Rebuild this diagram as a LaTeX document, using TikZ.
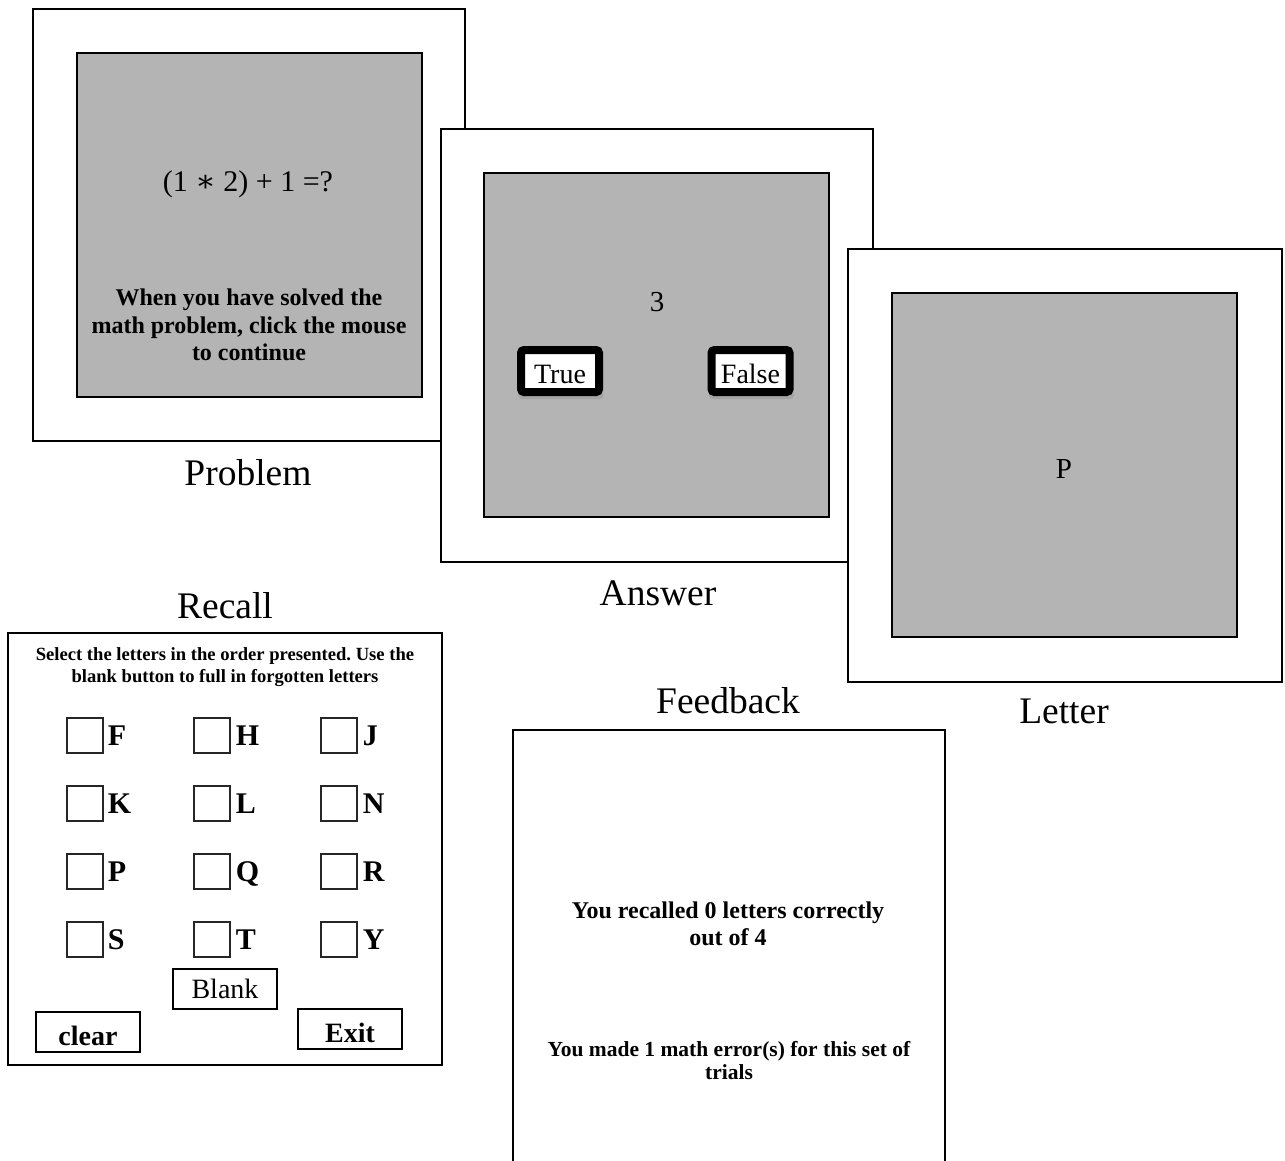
\documentclass[tikz,border=0pt]{standalone}
\usepackage{fontspec}
\setmainfont{Liberation Serif}
\newfontfamily\dvserif{DejaVu Serif}
\usetikzlibrary{shadows}
\definecolor{screen}{RGB}{180,180,180}
\frenchspacing
\begin{document}
\begin{tikzpicture}[x=1pt,y=-1pt,
  frame/.style={draw=black,line width=2pt,fill=white},
  screenbox/.style={draw=black,line width=2pt,fill=screen},
  lbl/.style={anchor=base,font=\fontsize{37.5}{42}\selectfont},
  bigchar/.style={anchor=base,font=\fontsize{29}{32}\selectfont},
  tfbtn/.style={draw=black,line width=8pt,fill=white,rounded corners=3pt,
    minimum width=78pt,minimum height=42pt,inner sep=0pt,
    text height=33pt,text depth=9pt,font=\fontsize{28}{30}\selectfont,
    drop shadow={shadow xshift=1pt,shadow yshift=-5pt,shadow scale=1.08,opacity=0.3}},
  chk/.style={draw=black!85,line width=1.3pt,minimum width=36pt,minimum height=35pt,inner sep=0pt},
  letr/.style={anchor=base west,inner sep=0pt,font=\bfseries\fontsize{30}{34}\selectfont},
  rbtn/.style={draw=black,line width=2pt,inner sep=0pt,minimum width=104pt,
    minimum height=40pt,text height=33pt,text depth=7pt,font=\bfseries\fontsize{28}{32}\selectfont}
]
\useasboundingbox[fill=white] (0,0) rectangle (1285,1160);

% ---- Problem screen
\draw[frame] (33,9) rectangle (465,441);
\draw[screenbox] (77,53) rectangle (422,397);
\node[anchor=base,font=\fontsize{30}{33}\selectfont] (expr) at (248,191) {(1 {\dvserif ∗} 2) + 1 =?};
\node[align=center,font=\bfseries\fontsize{24}{27.5}\selectfont] (ptext) at (249,325)
  {When you have solved the\\math problem, click the mouse\\to continue};
\node[lbl] (lprob) at (248,485) {Problem};

% ---- Answer screen
\draw[frame] (441,129) rectangle (873,562);
\draw[screenbox] (484,173) rectangle (829,517);
\node[bigchar] (ans) at (657,311) {3};
\node[tfbtn] (btrue) at (560,371) {True};
\node[tfbtn] (bfalse) at (750.5,371) {False};
\node[lbl] (lans) at (658,605) {Answer};

% ---- Letter screen
\draw[frame] (848,249) rectangle (1282,682);
\draw[screenbox] (892,293) rectangle (1237,637);
\node[bigchar] (let) at (1064,478) {P};
\node[lbl] (llet) at (1064,723) {Letter};

% ---- Recall screen
\node[lbl] (lrec) at (225,618) {Recall};
\draw[draw=black,line width=2.5pt] (8,633) rectangle (442,1065);
\node[align=center,font=\bfseries\fontsize{18.6}{22}\selectfont] (rtext) at (225,667)
  {Select the letters in the order presented. Use the\\blank button to full in forgotten letters};
\foreach \y/\la/\lb/\lc [count=\r] in {735.5/F/H/J, 803.5/K/L/N, 871.5/P/Q/R, 939.5/S/T/Y}{
  \node[chk] (b\r a) at (85,\y) {};
  \node[letr] (t\r a) at ([xshift=4pt,yshift=8pt]b\r a.south east) {\la};
  \node[chk] (b\r b) at (212,\y) {};
  \node[letr] (t\r b) at ([xshift=5pt,yshift=8pt]b\r b.south east) {\lb};
  \node[chk] (b\r c) at (339,\y) {};
  \node[letr] (t\r c) at ([xshift=5pt,yshift=8pt]b\r c.south east) {\lc};
}
\node[rbtn,text height=29pt,text depth=11pt,font=\fontsize{28}{32}\selectfont] (blank) at (225,989) {Blank};
\node[rbtn] (clear) at (88,1032) {clear};
\node[rbtn] (exit) at (350,1029) {Exit};

% ---- Feedback screen
\node[lbl] (lfb) at (728,713) {Feedback};
\draw[draw=black,line width=2.5pt] (513,1162) -- (513,730) -- (945,730) -- (945,1162);
\node[align=center,font=\bfseries\fontsize{24}{27}\selectfont] (fb1) at (728,924)
  {You recalled 0 letters correctly\\out of 4};
\node[align=center,font=\bfseries\fontsize{21.5}{23}\selectfont] (fb2) at (729,1061)
  {You made 1 math error(s) for this set of\\trials};
\end{tikzpicture}
\end{document}
